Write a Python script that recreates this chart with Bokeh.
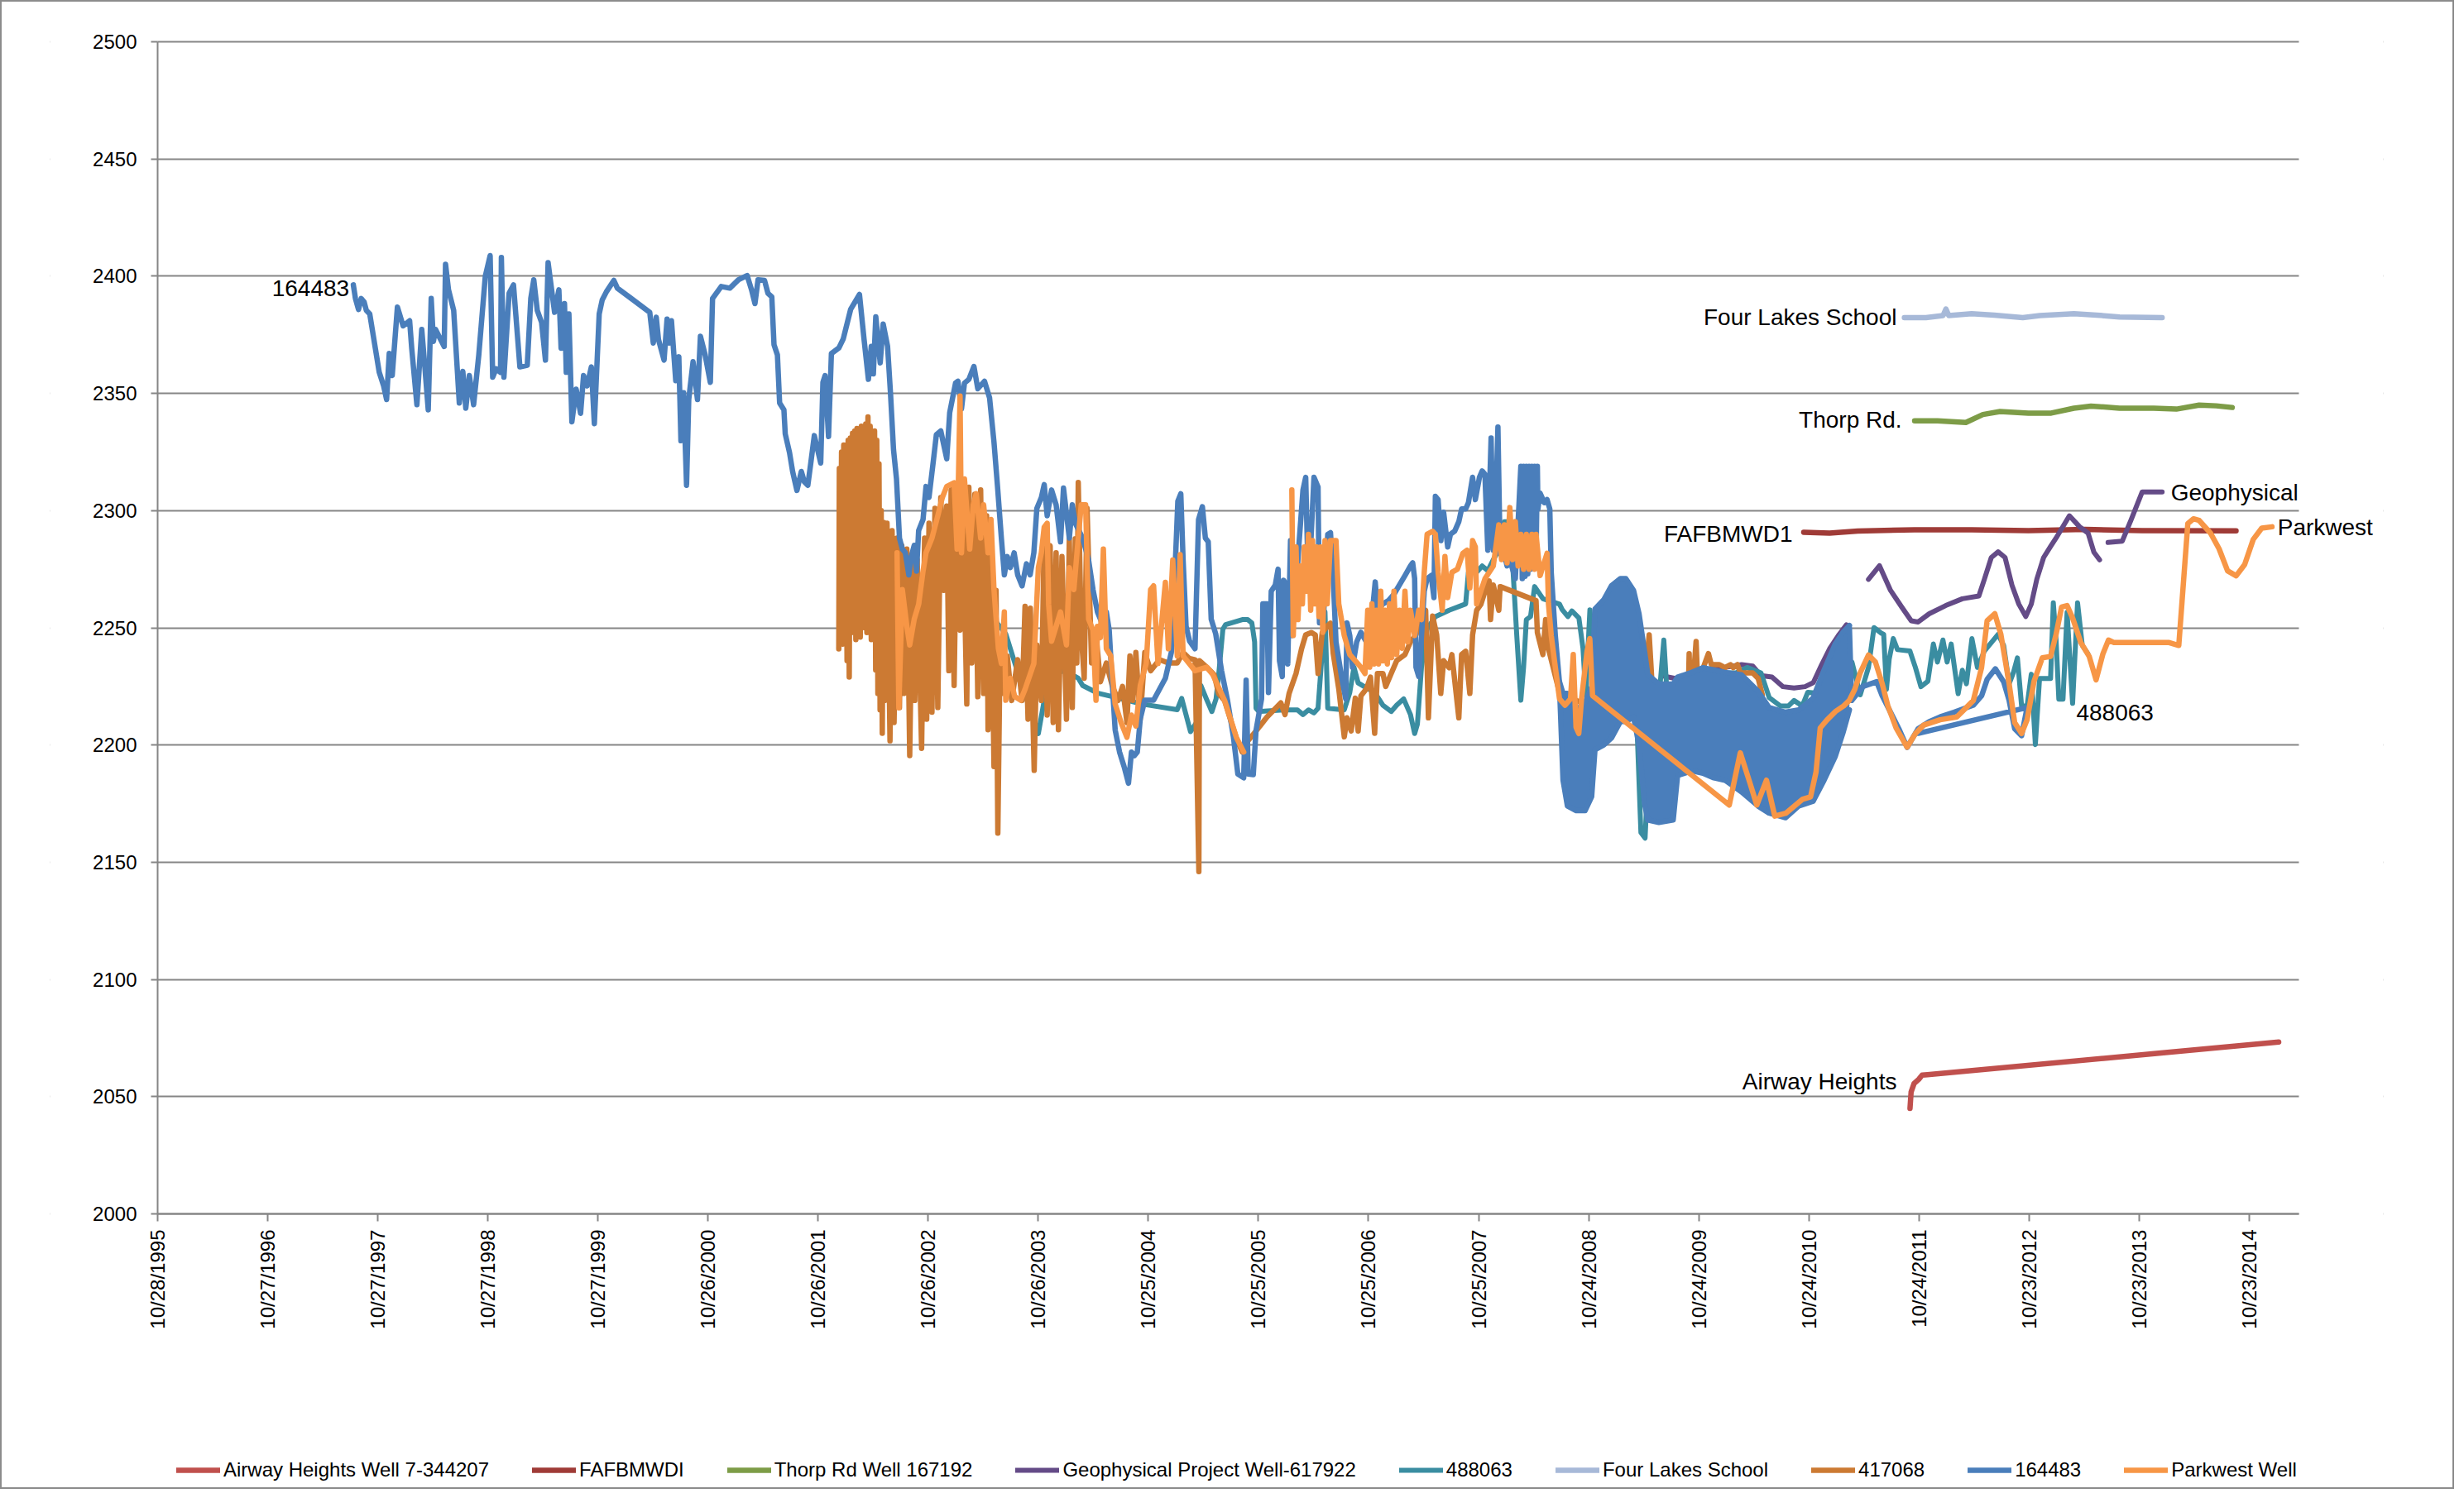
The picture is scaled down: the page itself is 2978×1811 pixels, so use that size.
import numpy as np
from bokeh.plotting import figure
from bokeh.models import (Range1d, FixedTicker, DatetimeTickFormatter, Legend, LegendItem, Label,
                          BoxAnnotation)
from bokeh.embed import file_html
from bokeh.resources import INLINE

NAN = float("nan")

# ---------------- data (decimal years, elevation ft) ----------------
AH_yr = [2011.730, 2011.740, 2011.767, 2011.809, 2011.840, 2011.888, 2015.077]
AH_val = [2045.0, 2052.0, 2055.6, 2057.4, 2059.2, 2059.4, 2073.3]

FAFB_yr = [2010.765, 2011.000, 2011.256, 2011.770, 2012.290, 2012.805, 2013.320, 2013.838, 2014.690]
FAFB_val = [2290.8, 2290.4, 2291.3, 2291.8, 2291.8, 2291.5, 2292.0, 2291.5, 2291.4]

THORP_yr = [2011.772, 2011.979, 2012.237, 2012.392, 2012.547, 2012.805, 2013.012, 2013.218,
            2013.373, 2013.632, 2013.942, 2014.148, 2014.355, 2014.510, 2014.655]
THORP_val = [2338.3, 2338.3, 2337.6, 2341.0, 2342.3, 2341.6, 2341.6, 2343.7,
             2344.6, 2343.7, 2343.7, 2343.3, 2345.0, 2344.7, 2344.0]

GEO_yr = [2009.475, 2009.600, 2009.700, 2009.800, 2009.926, 2010.051, 2010.201, 2010.302, 2010.377,
          2010.477, 2010.577, 2010.677, 2010.777, 2010.852, 2010.928, 2011.003, 2011.078, 2011.153,
          2011.250,
          2011.353, 2011.453, 2011.553, 2011.654, 2011.741, 2011.804, 2011.904, 2012.054, 2012.205,
          2012.355, 2012.405, 2012.468, 2012.530, 2012.593, 2012.655, 2012.718, 2012.781, 2012.831,
          2012.881, 2012.943, 2013.006, 2013.056, 2013.177, 2013.270, 2013.347, 2013.399, 2013.451,
          2013.490,
          2013.528, 2013.657, 2013.735, 2013.838, 2014.019]
GEO_val = [2229.6, 2228.4, 2227.8, 2230.8, 2232.5, 2233.1, 2234.3, 2233.7, 2229.6,
           2229.0, 2224.9, 2224.3, 2224.9, 2226.6, 2234.3, 2241.3, 2246.6, 2251.3,
           NAN,
           2270.7, 2276.5, 2266.0, 2258.9, 2253.0, 2252.5, 2256.0, 2259.5, 2262.4,
           2263.6, 2270.7, 2280.0, 2282.4, 2280.0, 2268.3, 2260.1, 2254.8, 2260.1,
           2270.7, 2280.0, 2284.7, 2288.3, 2297.8, 2293.1, 2290.4, 2282.3, 2279.0,
           NAN,
           2286.4, 2287.0, 2295.8, 2308.0, 2308.0]

W488_yr = [2003.079, 2003.226, 2003.414, 2003.521, 2003.656, 2003.682, 2003.817, 2003.870, 2003.924,
           2004.058, 2004.179, 2004.219, 2004.353, 2004.487, 2004.756, 2005.078, 2005.118, 2005.198,
           2005.252, 2005.292, 2005.342, 2005.392, 2005.430, 2005.455, 2005.492, 2005.517, 2005.668,
           2005.718, 2005.755, 2005.780, 2005.793, 2005.818, 2006.043, 2006.169, 2006.219, 2006.269,
           2006.319, 2006.356, 2006.394, 2006.419, 2006.444, 2006.594, 2006.644, 2006.682, 2006.720,
           2006.770, 2006.870, 2006.945, 2007.020, 2007.070, 2007.133, 2007.195, 2007.233, 2007.258,
           2007.295, 2007.346, 2007.421, 2007.546, 2007.696, 2007.721, 2007.759, 2007.796, 2007.846,
           2007.897, 2007.947, 2007.997, 2008.047, 2008.097, 2008.122, 2008.160, 2008.197, 2008.222,
           2008.247, 2008.285, 2008.322, 2008.398, 2008.548, 2008.573, 2008.624, 2008.661, 2008.724,
           2008.761, 2008.786, 2008.824, 2008.862, 2008.899, 2009.000, 2009.124, 2009.250, 2009.287,
           2009.325, 2009.350, 2009.387, 2009.462, 2009.495, 2009.525, 2009.575, 2009.625, 2009.675,
           2009.750, 2009.850, 2010.051, 2010.151, 2010.251, 2010.377, 2010.452, 2010.552, 2010.627,
           2010.677, 2010.752, 2010.802, 2011.053, 2011.203, 2011.278, 2011.353, 2011.403, 2011.466,
           2011.491, 2011.516, 2011.541, 2011.578, 2011.616, 2011.729, 2011.779, 2011.829, 2011.892,
           2011.942, 2011.979, 2012.029, 2012.067, 2012.104, 2012.167, 2012.205, 2012.242, 2012.292,
           2012.342, 2012.405, 2012.530, 2012.580, 2012.630, 2012.668, 2012.705, 2012.743, 2012.793,
           2012.831, 2012.868, 2012.906, 2013.006, 2013.031, 2013.056, 2013.081, 2013.119, 2013.156,
           2013.206, 2013.251, 2013.294, 2013.344]
W488_val = [2288.3, 2260.0, 2253.7, 2247.4, 2227.0, 2223.8, 2204.9, 2219.1, 2230.1,
            2231.7, 2228.5, 2225.4, 2222.2, 2220.7, 2217.5, 2215.1, 2219.9, 2205.7,
            2209.6, 2225.4, 2219.7, 2214.3, 2219.7, 2230.5, 2249.4, 2251.4, 2253.5,
            2253.5, 2252.1, 2244.0, 2215.7, 2214.3, 2215.0, 2215.0, 2213.0, 2215.0,
            2213.7, 2215.7, 2240.0, 2256.8, 2215.7, 2215.0, 2222.4, 2233.2, 2226.5,
            2225.1, 2222.4, 2217.0, 2214.3, 2217.0, 2219.7, 2213.0, 2204.9, 2208.9,
            2233.2, 2249.4, 2254.8, 2257.5, 2260.2, 2273.7, 2275.0, 2273.7, 2276.4,
            2274.4, 2279.1, 2283.1, 2295.3, 2295.3, 2277.7, 2246.7, 2219.1, 2233.2,
            2253.5, 2254.8, 2267.6, 2262.4, 2260.1, 2257.7, 2254.8, 2257.2, 2254.2,
            2241.3, 2221.4, 2257.7, 2235.4, 2226.0, 2221.4, 2219.0, 2209.6, 2162.7,
            2160.3, 2186.2, 2215.5, 2226.1, 2244.8, 2221.4, 2222.5, 2219.0, 2216.7,
            2219.0, 2228.4, 2230.8, 2230.8, 2233.1, 2230.8, 2220.2, 2216.7, 2216.7,
            2219.0, 2216.7, 2222.5, 2221.4, 2235.4, 2221.4, 2233.1, 2250.1, 2247.8,
            2247.2, 2223.7, 2236.6, 2245.4, 2240.7, 2240.1, 2233.1, 2224.9, 2227.2,
            2243.1, 2235.4, 2244.8, 2235.4, 2243.1, 2221.9, 2231.9, 2226.1, 2245.4,
            2233.1, 2240.1, 2247.2, 2242.5, 2226.1, 2230.8, 2237.2, 2216.7, 2216.7,
            2230.2, 2200.2, 2228.4, 2228.4, 2260.7, 2244.8, 2219.6, 2219.6, 2256.6,
            2217.8, 2260.7, 2242.5, 2239.0]

FOUR_yr = [2011.679, 2011.875, 2012.030, 2012.056, 2012.082, 2012.289, 2012.495, 2012.754,
           2012.909, 2013.218, 2013.425, 2013.632, 2014.019]
FOUR_val = [2382.3, 2382.3, 2383.2, 2386.0, 2383.2, 2384.0, 2383.4, 2382.3,
            2383.2, 2384.0, 2383.4, 2382.6, 2382.3]

W417_yr = [2002.005, 2002.010, 2002.020, 2002.030, 2002.040, 2002.050, 2002.060, 2002.070, 2002.080,
           2002.090, 2002.100, 2002.110, 2002.120, 2002.130, 2002.140, 2002.150, 2002.160, 2002.170,
           2002.180, 2002.190, 2002.200, 2002.210, 2002.220, 2002.230, 2002.240, 2002.250, 2002.260,
           2002.270, 2002.280, 2002.290, 2002.300, 2002.310, 2002.320, 2002.330, 2002.340, 2002.350,
           2002.360, 2002.370, 2002.380, 2002.390, 2002.400, 2002.410,
           2002.421, 2002.443, 2002.470, 2002.489, 2002.507, 2002.534, 2002.556, 2002.577, 2002.596,
           2002.623, 2002.649, 2002.676, 2002.695, 2002.717, 2002.757, 2002.784, 2002.803, 2002.824,
           2002.851, 2002.878, 2002.904, 2002.931, 2002.958, 2002.985, 2003.004, 2003.025, 2003.052,
           2003.079, 2003.106, 2003.124, 2003.146, 2003.167, 2003.186, 2003.213, 2003.240, 2003.267,
           2003.293, 2003.320, 2003.347, 2003.360, 2003.387, 2003.414, 2003.433, 2003.449, 2003.468,
           2003.495, 2003.535, 2003.575, 2003.629, 2003.669, 2003.696, 2003.723, 2003.744, 2003.779,
           2003.803, 2003.844, 2003.870, 2003.897, 2003.924, 2003.951, 2003.978, 2003.999, 2004.031,
           2004.072, 2004.098, 2004.125, 2004.152, 2004.166, 2004.179, 2004.206, 2004.233, 2004.259,
           2004.300, 2004.340, 2004.380, 2004.434, 2004.487, 2004.541, 2004.581, 2004.621, 2004.648,
           2004.675, 2004.702, 2004.742, 2004.783, 2004.836, 2004.917, 2004.997, 2005.078, 2005.131,
           2005.185, 2005.239, 2005.274, 2005.279, 2005.346, 2005.413, 2005.453, 2005.507, 2005.560,
           2005.614, 2005.668,
           2005.705, 2005.793, 2005.893, 2006.018, 2006.056, 2006.093, 2006.156, 2006.206, 2006.244,
           2006.294, 2006.331, 2006.356, 2006.394, 2006.444, 2006.469, 2006.494, 2006.544, 2006.594,
           2006.619, 2006.657, 2006.694, 2006.720, 2006.745, 2006.795, 2006.832, 2006.870, 2006.895,
           2006.945, 2006.970, 2007.020, 2007.070, 2007.145, 2007.195, 2007.245, 2007.295, 2007.333,
           2007.358, 2007.396, 2007.433, 2007.470, 2007.496, 2007.546, 2007.571, 2007.634, 2007.659,
           2007.696, 2007.734, 2007.759, 2007.796, 2007.834, 2007.872, 2007.909, 2007.922, 2007.947,
           2007.997, 2008.009, 2008.335, 2008.347, 2008.397, 2008.422, 2008.448,
           2008.550, 2008.900, 2009.300, 2009.362, 2009.400, 2009.438, 2009.475, 2009.550, 2009.650,
           2009.713, 2009.725, 2009.738, 2009.788, 2009.800, 2009.838, 2009.863, 2009.900, 2009.926,
           2010.000, 2010.050, 2010.100, 2010.125, 2010.164, 2010.189, 2010.302, 2010.352, 2010.389]
W417_val = [2241, 2318, 2250, 2325, 2243, 2328, 2252, 2328, 2236,
            2330, 2229, 2331, 2262, 2333, 2248, 2334, 2245, 2335,
            2255, 2334, 2246, 2336, 2252, 2335, 2250, 2337, 2248,
            2340, 2255, 2336, 2245, 2333, 2270, 2334, 2232, 2330,
            2222, 2320, 2215, 2300, 2205, 2295,
            2219.0, 2294.6, 2201.8, 2291.5, 2209.6, 2288.3, 2216.0, 2285.0, 2222.0,
            2283.6, 2195.5, 2282.0, 2219.0, 2279.0, 2198.6, 2288.3, 2211.0, 2294.6,
            2214.0, 2301.0, 2216.0, 2305.6, 2266.0, 2302.0, 2231.7, 2308.8, 2225.4,
            2310.0, 2249.0, 2306.0, 2266.0, 2217.5, 2310.0, 2235.0, 2307.0, 2220.6,
            2308.8, 2222.0, 2297.8, 2206.5, 2282.0, 2190.8, 2266.0, 2162.4, 2235.0,
            2222.0, 2238.0, 2219.0, 2236.4, 2219.0, 2259.2, 2211.0, 2258.4, 2189.2,
            2242.7, 2219.0, 2288.3, 2212.8, 2285.0, 2209.6, 2282.0, 2206.5, 2280.4,
            2211.0, 2288.3, 2216.0, 2288.0, 2235.0, 2312.0, 2247.4, 2228.5, 2301.0,
            2235.0, 2247.4, 2227.0, 2235.0, 2225.4, 2219.0, 2225.0, 2209.6, 2238.0,
            2219.0, 2239.5, 2211.0, 2239.5, 2231.7, 2236.4, 2235.0, 2235.0, 2239.5,
            2237.0, 2236.4, 2146.0, 2236.0, 2233.2, 2230.0, 2222.0, 2219.0, 2211.0,
            2203.0, 2197.0,
            2201.0, 2206.0, 2212.0, 2218.0, 2213.0, 2222.0, 2230.5, 2241.0, 2247.0,
            2248.0, 2247.0, 2230.5, 2248.0, 2251.0, 2252.0, 2239.0, 2224.0, 2203.5,
            2211.6, 2206.0, 2220.0, 2206.0, 2221.0, 2224.0, 2229.0, 2205.0, 2230.5,
            2230.5, 2225.0, 2230.5, 2236.0, 2238.6, 2244.0, 2247.0, 2253.5, 2257.5,
            2211.6, 2255.0, 2247.0, 2222.0, 2236.0, 2233.0, 2238.6, 2211.6, 2238.6,
            2240.0, 2222.0, 2247.0, 2257.5, 2260.0, 2265.6, 2270.0, 2253.5, 2268.3,
            2257.5, 2267.6, 2261.6, 2248.0, 2238.6, 2253.5, 2241.0,
            2222.0, 2215.0, 2215.0, 2247.0, 2216.7, 2221.4, 2215.5, 2212.0, 2210.8,
            2212.0, 2239.0, 2212.0, 2244.2, 2229.6, 2230.8, 2234.3, 2239.0, 2234.3,
            2234.3, 2233.0, 2234.3, 2233.0, 2234.3, 2230.8, 2230.8, 2228.4, 2221.4]

W164_yr = [1997.598, 1997.617, 1997.645, 1997.669, 1997.696, 1997.716, 1997.747, 1997.833, 1997.873,
           1997.900, 1997.924, 1997.951, 1997.998, 1998.050, 1998.109, 1998.128, 1998.175, 1998.219,
           1998.246, 1998.278, 1998.305, 1998.325, 1998.344, 1998.423, 1998.435, 1998.462, 1998.509,
           1998.560, 1998.592, 1998.619, 1998.651, 1998.690, 1998.737, 1998.796, 1998.840, 1998.863,
           1998.894, 1998.934, 1998.942, 1998.965, 1999.012, 1999.052, 1999.110, 1999.177, 1999.209,
           1999.236, 1999.268, 1999.307, 1999.342, 1999.366, 1999.425, 1999.464, 1999.484, 1999.515,
           1999.531, 1999.555, 1999.582, 1999.621, 1999.661, 1999.688, 1999.720, 1999.759, 1999.786,
           1999.830, 1999.857, 1999.896, 1999.963, 1999.995, 2000.289, 2000.321, 2000.348, 2000.368,
           2000.419, 2000.446, 2000.466, 2000.486, 2000.525, 2000.553, 2000.572, 2000.596, 2000.623,
           2000.643, 2000.682, 2000.722, 2000.749, 2000.792, 2000.839, 2000.859, 2000.938, 2001.016,
           2001.095, 2001.173, 2001.213, 2001.244, 2001.272, 2001.331, 2001.362, 2001.397, 2001.417,
           2001.448, 2001.468, 2001.507, 2001.519, 2001.558, 2001.586, 2001.625, 2001.665, 2001.692,
           2001.724, 2001.751, 2001.783, 2001.841, 2001.861, 2001.881,
           2001.912, 2001.938, 2002.006, 2002.046, 2002.113, 2002.193, 2002.234, 2002.274, 2002.300,
           2002.319, 2002.341, 2002.381, 2002.408, 2002.448, 2002.475, 2002.502, 2002.529, 2002.556,
           2002.582, 2002.609, 2002.641, 2002.663, 2002.690, 2002.711, 2002.730, 2002.770, 2002.797,
           2002.824, 2002.864, 2002.891, 2002.931, 2002.985, 2003.012, 2003.065, 2003.087, 2003.119,
           2003.146, 2003.186, 2003.232, 2003.267, 2003.328, 2003.374, 2003.414, 2003.446, 2003.481,
           2003.508, 2003.535, 2003.562, 2003.597, 2003.629, 2003.669, 2003.709, 2003.742, 2003.776,
           2003.803, 2003.844, 2003.870, 2003.897, 2003.937, 2003.978, 2004.018, 2004.045, 2004.098,
           2004.125, 2004.152, 2004.219, 2004.273, 2004.313, 2004.353, 2004.394, 2004.434, 2004.460,
           2004.487, 2004.514, 2004.554, 2004.595, 2004.635, 2004.662, 2004.689, 2004.715, 2004.742,
           2004.783, 2004.863, 2004.970, 2005.024, 2005.064, 2005.083, 2005.110, 2005.131, 2005.158,
           2005.190, 2005.239, 2005.271, 2005.306, 2005.333, 2005.359, 2005.386, 2005.427, 2005.480,
           2005.534, 2005.588, 2005.628, 2005.681, 2005.703, 2005.722,
           2005.768, 2005.793, 2005.843, 2005.855, 2005.893, 2005.906, 2005.931, 2005.968, 2005.993,
           2006.006, 2006.031, 2006.043, 2006.068, 2006.081, 2006.106, 2006.118, 2006.143, 2006.181,
           2006.219, 2006.244, 2006.269, 2006.319, 2006.356, 2006.369, 2006.406, 2006.444, 2006.469,
           2006.494, 2006.519, 2006.569, 2006.607, 2006.619, 2006.644, 2006.669, 2006.707, 2006.745,
           2006.795, 2006.845, 2006.875, 2006.895, 2006.945, 2006.995, 2007.045, 2007.095, 2007.145,
           2007.195, 2007.215, 2007.233, 2007.245, 2007.270, 2007.295, 2007.320, 2007.346, 2007.383,
           2007.408, 2007.421, 2007.446, 2007.471, 2007.496, 2007.533, 2007.558, 2007.596, 2007.634,
           2007.659, 2007.696, 2007.721, 2007.759, 2007.784, 2007.821, 2007.846, 2007.871, 2007.897,
           2007.927, 2007.947, 2007.959, 2007.989, 2008.009, 2008.034, 2008.072, 2008.097, 2008.147,
           2008.197, 2008.210, 2008.222, 2008.235, 2008.247, 2008.260, 2008.272, 2008.285, 2008.297,
           2008.310, 2008.322, 2008.335, 2008.347, 2008.352, 2008.372, 2008.410, 2008.435, 2008.460,
           2008.473, 2008.510, 2008.548,
           2009.800,
           2011.180, 2011.200, 2011.303, 2011.428, 2011.478, 2011.553, 2011.628, 2011.704, 2011.804,
           2011.904, 2012.004, 2012.130, 2012.305, 2012.380, 2012.430, 2012.505, 2012.580, 2012.630,
           2012.680, 2012.743, 2012.793, 2011.804]
W164_val = [2396.3, 2390.5, 2385.8, 2390.5, 2389.0, 2385.4, 2383.9, 2359.0, 2353.2,
            2347.4, 2367.1, 2357.6, 2386.8, 2378.8, 2381.0, 2369.3, 2345.2, 2377.3,
            2362.0, 2343.0, 2390.5, 2372.2, 2377.3, 2370.0, 2405.1, 2394.2, 2385.4,
            2345.9, 2359.4, 2343.7, 2357.6, 2345.2, 2366.4, 2400.0, 2408.8, 2356.9,
            2360.5, 2359.0, 2408.0, 2356.9, 2392.7, 2396.3, 2361.3, 2362.0, 2390.5,
            2398.5, 2385.4, 2380.3, 2364.2, 2405.8, 2384.6, 2394.2, 2369.3, 2388.3,
            2359.0, 2383.9, 2337.9, 2351.8, 2341.5, 2357.6, 2353.2, 2361.3, 2337.1,
            2383.9, 2389.8, 2393.4, 2398.2, 2394.9, 2384.6, 2371.5, 2382.5, 2373.0,
            2364.2, 2381.7, 2371.5, 2381.0, 2355.4, 2365.6, 2329.8, 2350.3, 2310.8,
            2347.4, 2363.5, 2347.4, 2374.4, 2366.4, 2354.7, 2390.5, 2395.6, 2394.9,
            2398.5, 2400.3, 2394.2, 2388.3, 2398.5, 2398.2, 2392.7, 2391.2, 2370.8,
            2366.4, 2345.9, 2343.0, 2332.7, 2324.7, 2316.7, 2308.6, 2316.7, 2312.3,
            2310.8, 2320.3, 2332.0, 2320.3, 2354.7, 2357.6,
            2331.6, 2367.0, 2369.4, 2373.3, 2385.9, 2392.2, 2373.3, 2356.0, 2370.1,
            2358.3, 2382.7, 2363.0, 2379.6, 2370.1, 2349.7, 2326.0, 2313.5, 2288.3,
            2283.6, 2282.0, 2272.6, 2280.4, 2285.2, 2274.2, 2291.5, 2296.2, 2310.3,
            2305.6, 2321.4, 2332.4, 2334.0, 2322.1, 2341.8, 2354.4, 2355.2, 2343.4,
            2354.4, 2356.0, 2361.5, 2352.0, 2355.2, 2348.1, 2329.2, 2310.3, 2288.3,
            2272.6, 2280.4, 2275.7, 2282.0, 2272.6, 2267.9, 2277.3, 2272.6, 2282.0,
            2300.9, 2305.6, 2311.1, 2297.8, 2308.8, 2302.5, 2286.7, 2309.6, 2288.3,
            2302.5, 2294.6, 2288.3, 2278.9, 2266.3, 2256.8, 2252.1, 2256.8, 2249.0,
            2227.0, 2206.5, 2197.0, 2190.8, 2183.7, 2197.0, 2195.5, 2197.0, 2211.2,
            2219.1, 2219.1, 2228.5, 2239.5, 2282.0, 2304.0, 2307.2, 2278.9, 2250.6,
            2244.3, 2241.1, 2296.2, 2301.7, 2288.3, 2286.7, 2253.7, 2247.4, 2231.7,
            2219.1, 2203.3, 2187.6, 2186.0, 2227.7, 2187.6,
            2187.4, 2206.2, 2219.7, 2260.2, 2260.2, 2222.4, 2265.6, 2268.3, 2275.0,
            2235.9, 2229.2, 2270.3, 2268.3, 2234.6, 2287.2, 2246.7, 2257.5, 2284.5,
            2308.8, 2314.2, 2265.6, 2314.2, 2310.1, 2252.1, 2254.8, 2289.9, 2290.6,
            2271.0, 2244.0, 2229.2, 2219.7, 2252.1, 2246.7, 2233.2, 2244.0, 2248.1,
            2244.0, 2254.8, 2269.6, 2257.5, 2260.2, 2261.6, 2264.3, 2268.3, 2272.3,
            2276.4, 2277.7, 2271.0, 2233.2, 2229.2, 2246.7, 2265.6, 2271.0, 2272.3,
            2262.9, 2306.1, 2304.7, 2287.2, 2299.3, 2284.5, 2289.9, 2291.2, 2295.3,
            2300.7, 2300.7, 2303.4, 2314.2, 2304.7, 2314.2, 2316.9, 2315.5, 2283.1,
            2331.0, 2283.1, 2284.5, 2335.7, 2281.8, 2284.5, 2276.4, 2279.1, 2271.0,
            2318.9, 2271.0, 2318.9, 2272.0, 2318.9, 2273.0, 2318.9, 2275.0, 2318.9,
            2277.0, 2318.9, 2280.0, 2318.9, 2300.7, 2307.4, 2303.4, 2304.7, 2300.7,
            2273.7, 2246.7, 2226.5,
            NAN,
            2250.0, 2219.0, 2225.0, 2227.0, 2221.0, 2214.0, 2207.0, 2199.0, 2207.0,
            2210.0, 2212.0, 2214.0, 2217.0, 2221.0, 2228.0, 2232.5, 2227.0, 2219.0,
            2207.0, 2204.0, 2216.0, 2205.0]

# dense daily record of 164483, 2008.5-2011.2: upper / lower envelope
W164_band_yr = [2008.548, 2008.580, 2008.620, 2008.700, 2008.780, 2008.840, 2008.870, 2008.950, 2009.020,
                2009.100, 2009.150, 2009.220, 2009.270, 2009.320, 2009.350, 2009.450, 2009.580, 2009.620,
                2009.750, 2009.850, 2009.950, 2010.050, 2010.200, 2010.350, 2010.450, 2010.600, 2010.720,
                2010.850, 2010.950, 2011.050, 2011.120, 2011.180]
W164_band_hi = [2227, 2222, 2222, 2215, 2218, 2225, 2258, 2262, 2268,
                2271, 2271, 2266, 2256, 2240, 2230, 2226, 2226, 2229,
                2231, 2233, 2232, 2231, 2230, 2223, 2216, 2214, 2215,
                2220, 2232, 2243, 2248, 2251]
W164_band_lo = [2225, 2185, 2174, 2172, 2172, 2178, 2198, 2200, 2203,
                2210, 2210, 2212, 2200, 2175, 2168, 2167, 2168, 2187,
                2189, 2188, 2186, 2185, 2180, 2174, 2171, 2169, 2174,
                2176, 2185, 2195, 2205, 2215]

PARK_yr = [2002.534, 2002.550, 2002.582, 2002.623, 2002.649, 2002.690, 2002.730, 2002.770, 2002.797,
           2002.851, 2002.904, 2002.945, 2002.985, 2003.052, 2003.079, 2003.106, 2003.119, 2003.146,
           2003.194, 2003.226, 2003.253, 2003.293, 2003.320, 2003.360, 2003.387, 2003.414, 2003.454,
           2003.481, 2003.508, 2003.521, 2003.562, 2003.602, 2003.656, 2003.696, 2003.776, 2003.817,
           2003.844, 2003.870, 2003.897, 2003.910, 2003.937, 2004.018, 2004.072, 2004.098, 2004.139,
           2004.179, 2004.206, 2004.246, 2004.273, 2004.313, 2004.340, 2004.353, 2004.380, 2004.407,
           2004.434, 2004.474, 2004.514, 2004.568, 2004.621, 2004.662, 2004.702, 2004.742, 2004.796,
           2004.836, 2004.863, 2004.903, 2004.970, 2004.997, 2005.037, 2005.078, 2005.104, 2005.131,
           2005.185, 2005.239, 2005.346, 2005.400, 2005.507, 2005.614, 2005.681,
           2005.900,
           2006.118, 2006.131, 2006.156, 2006.174, 2006.194, 2006.214, 2006.231, 2006.249, 2006.269,
           2006.289, 2006.306, 2006.324, 2006.344, 2006.364, 2006.381, 2006.399, 2006.419, 2006.439,
           2006.469, 2006.519, 2006.544, 2006.594, 2006.644, 2006.694, 2006.745, 2006.782, 2006.807,
           2006.825, 2006.845, 2006.865, 2006.885, 2006.905, 2006.925, 2006.945, 2006.965, 2006.985,
           2007.005, 2007.025, 2007.045, 2007.070, 2007.095, 2007.120, 2007.145, 2007.170, 2007.195,
           2007.233, 2007.270, 2007.295, 2007.320, 2007.346, 2007.396, 2007.421, 2007.446, 2007.483,
           2007.508, 2007.533, 2007.571, 2007.621, 2007.671, 2007.709, 2007.734, 2007.759, 2007.784,
           2007.796, 2007.872, 2007.947, 2007.997, 2008.022, 2008.047, 2008.072, 2008.097, 2008.122,
           2008.147, 2008.172, 2008.197, 2008.222, 2008.247, 2008.272, 2008.297, 2008.322, 2008.335,
           2008.372, 2008.435, 2008.448, 2008.473, 2008.510, 2008.548, 2008.598, 2008.648, 2008.673,
           2008.698, 2008.723, 2008.748, 2008.798, 2008.823, 2008.848,
           2010.089, 2010.189, 2010.277, 2010.339, 2010.427, 2010.502, 2010.602, 2010.752, 2010.827,
           2010.877, 2010.915, 2010.978, 2011.053, 2011.128, 2011.178, 2011.228, 2011.278, 2011.353,
           2011.416, 2011.478, 2011.529, 2011.604, 2011.704, 2011.779, 2011.854, 2012.004, 2012.155,
           2012.205, 2012.305, 2012.380, 2012.430, 2012.500, 2012.555, 2012.630, 2012.680, 2012.743,
           2012.793, 2012.856, 2012.931, 2013.006, 2013.056, 2013.106, 2013.156, 2013.206, 2013.281,
           2013.357, 2013.419, 2013.482, 2013.532, 2013.582, 2014.083, 2014.170, 2014.252, 2014.303,
           2014.355, 2014.458, 2014.536, 2014.613, 2014.691, 2014.768, 2014.846, 2014.923, 2015.016]
PARK_val = [2282.0, 2215.9, 2266.3, 2250.6, 2242.7, 2253.7, 2260.0, 2274.2, 2282.0,
            2288.3, 2297.8, 2305.6, 2310.3, 2311.9, 2283.6, 2348.9, 2282.0, 2313.5,
            2283.6, 2302.5, 2307.2, 2288.3, 2302.5, 2282.0, 2296.2, 2266.3, 2241.1,
            2234.8, 2256.8, 2219.1, 2228.5, 2220.7, 2219.1, 2223.8, 2234.8, 2275.7,
            2282.0, 2293.0, 2294.6, 2260.0, 2244.3, 2256.8, 2242.7, 2275.7, 2266.3,
            2288.3, 2302.5, 2302.5, 2253.7, 2249.0, 2219.1, 2250.6, 2245.8, 2283.6,
            2241.1, 2238.0, 2217.5, 2209.6, 2203.3, 2212.8, 2208.1, 2225.4, 2234.8,
            2266.3, 2267.9, 2234.8, 2269.4, 2241.1, 2278.9, 2238.0, 2281.2, 2238.0,
            2234.8, 2231.7, 2233.2, 2230.1, 2219.1, 2203.3, 2197.0,
            NAN,
            2308.8, 2246.7, 2284.5, 2253.5, 2276.4, 2260.2, 2284.5, 2265.6, 2289.9,
            2257.5, 2287.2, 2260.2, 2284.5, 2254.8, 2284.5, 2248.1, 2287.2, 2260.2,
            2287.2, 2287.2, 2260.2, 2246.7, 2238.6, 2235.9, 2233.2, 2230.5, 2257.5,
            2233.2, 2260.2, 2234.6, 2257.5, 2234.6, 2265.6, 2235.9, 2257.5, 2234.6,
            2260.2, 2237.3, 2265.6, 2238.6, 2257.5, 2241.3, 2265.6, 2244.0, 2257.5,
            2246.7, 2257.5, 2253.5, 2273.7, 2289.9, 2291.2, 2289.9, 2273.7, 2257.5,
            2280.4, 2262.9, 2273.7, 2275.0, 2281.8, 2283.1, 2267.0, 2287.2, 2284.5,
            2260.2, 2271.0, 2276.4, 2293.9, 2279.1, 2293.9, 2277.7, 2301.3, 2279.1,
            2295.3, 2276.4, 2289.9, 2275.0, 2289.9, 2275.0, 2289.9, 2275.0, 2289.9,
            2272.3, 2281.8, 2260.2, 2246.7, 2233.2, 2219.7, 2217.0, 2219.7, 2238.6,
            2207.6, 2204.9, 2219.7, 2240.0, 2245.4, 2221.1,
            2174.4, 2196.7, 2183.8, 2174.4, 2185.0, 2169.7, 2170.9, 2176.8, 2177.9,
            2188.5, 2207.3, 2210.8, 2214.3, 2216.7, 2219.0, 2223.7, 2230.8, 2238.4,
            2235.4, 2226.1, 2216.7, 2207.3, 2199.1, 2204.9, 2208.5, 2210.8, 2212.0,
            2214.3, 2219.0, 2233.1, 2253.0, 2256.0, 2247.2, 2226.1, 2209.6, 2204.9,
            2210.8, 2227.2, 2237.2, 2237.8, 2247.2, 2258.9, 2259.5, 2254.2, 2243.7,
            2237.8, 2227.8, 2239.0, 2244.8, 2243.7, 2243.7, 2242.5, 2294.5, 2296.5,
            2295.8, 2290.4, 2283.7, 2274.3, 2272.2, 2277.0, 2287.7, 2292.5, 2293.1]

TICK_LABEL_DAYS = [9431 + 365 * k for k in range(20)]   # 10/28/1995 ... 10/23/2014
X_AXIS_START_DAYS = 9431
X_AXIS_END_DAYS = 9431 + 7100
Y_TICKS = list(range(2000, 2501, 50))

# ---------------- helpers ----------------
DAY_MS = 86400000.0


def to_ms(years):
    y = np.asarray(years, dtype=float)
    return (y - 1970.0) * 365.2425 * DAY_MS


FONT = "Liberation Sans"
GRID = "#868686"

# The frame reaches past the axis box on all sides so the outside labels, the tick
# labels and the legend are not clipped; both axes are pinned to the 2000 / 10-28-1995 lines.
X_VIEW_START_DAYS = 9431 - 356.65
X_VIEW_END_DAYS = 9431 + 7380
Y_VIEW_START = 1881.8
Y_VIEW_END = 2509.88

p = figure(width=2966, height=1800, x_axis_type="datetime",
           x_range=Range1d(X_VIEW_START_DAYS * DAY_MS, X_VIEW_END_DAYS * DAY_MS),
           y_range=Range1d(Y_VIEW_START, Y_VIEW_END),
           output_backend="svg", toolbar_location=None,
           min_border_left=58, min_border_right=88, min_border_top=20, min_border_bottom=0,
           background_fill_color="white", border_fill_color="white")
p.styles = {"border": "2px solid #8c8c8c"}
p.outline_line_color = None

p.xaxis.ticker = FixedTicker(ticks=[d * DAY_MS for d in TICK_LABEL_DAYS])
fmt = "%m/%d/%Y"
p.xaxis.formatter = DatetimeTickFormatter(milliseconds=fmt, seconds=fmt, minsec=fmt, minutes=fmt,
                                          hourmin=fmt, hours=fmt, days=fmt, months=fmt, years=fmt)
p.xaxis.major_label_orientation = np.pi / 2
p.xaxis.bounds = (X_AXIS_START_DAYS * DAY_MS, X_AXIS_END_DAYS * DAY_MS)
p.xaxis.fixed_location = 2000
p.yaxis.ticker = FixedTicker(ticks=Y_TICKS)
p.yaxis.bounds = (2000, 2500)
p.yaxis.fixed_location = X_AXIS_START_DAYS * DAY_MS
for ax in (p.xaxis[0], p.yaxis[0]):
    ax.axis_line_color = GRID
    ax.axis_line_width = 2
    ax.major_tick_line_color = GRID
    ax.major_tick_line_width = 2
    ax.major_tick_in = 0
    ax.minor_tick_line_color = None
    ax.major_label_text_font = FONT
    ax.major_label_text_font_size = "24px"
    ax.major_label_text_color = "black"
p.xaxis.major_tick_out = 9
p.xaxis.major_label_standoff = 10
p.yaxis.major_tick_out = 8
p.yaxis.major_label_standoff = 17

p.xgrid.visible = False
p.ygrid.grid_line_color = GRID
p.ygrid.grid_line_width = 2
# hide the gridlines outside the axis box
for kw in (dict(left=X_AXIS_END_DAYS * DAY_MS), dict(right=X_AXIS_START_DAYS * DAY_MS)):
    p.add_layout(BoxAnnotation(fill_color="white", fill_alpha=1.0, line_color=None,
                               level="underlay", **kw))

LW = 6.5
common = dict(line_width=LW, line_join="round", line_cap="round")

r_ah = p.line(to_ms(AH_yr), AH_val, line_color="#c0504d", **common)
r_fafb = p.line(to_ms(FAFB_yr), FAFB_val, line_color="#9f3b37", **common)
r_thorp = p.line(to_ms(THORP_yr), THORP_val, line_color="#7d9c47", **common)
r_geo = p.line(to_ms(GEO_yr), GEO_val, line_color="#644b87", line_width=6, line_join="round", line_cap="round")
r_488 = p.line(to_ms(W488_yr), W488_val, line_color="#3a8da1", line_width=6, line_join="round", line_cap="round")
r_four = p.line(to_ms(FOUR_yr), FOUR_val, line_color="#a7b9d8", **common)
r_417 = p.line(to_ms(W417_yr), W417_val, line_color="#cc7a33", **common)

BLUE = "#4a7ebb"
p.varea(x=to_ms(W164_band_yr), y1=W164_band_lo, y2=W164_band_hi, fill_color=BLUE)
p.line(to_ms(W164_band_yr), W164_band_hi, line_color=BLUE, **common)
p.line(to_ms(W164_band_yr), W164_band_lo, line_color=BLUE, **common)
r_164 = p.line(to_ms(W164_yr), W164_val, line_color=BLUE, **common)
r_park = p.line(to_ms(PARK_yr), PARK_val, line_color="#f79646", **common)

legend = Legend(items=[
    LegendItem(label="Airway Heights Well 7-344207", renderers=[r_ah]),
    LegendItem(label="FAFBMWDI", renderers=[r_fafb]),
    LegendItem(label="Thorp Rd Well 167192", renderers=[r_thorp]),
    LegendItem(label="Geophysical Project Well-617922", renderers=[r_geo]),
    LegendItem(label="488063", renderers=[r_488]),
    LegendItem(label="Four Lakes School", renderers=[r_four]),
    LegendItem(label="417068", renderers=[r_417]),
    LegendItem(label="164483", renderers=[r_164]),
    LegendItem(label="Parkwest Well", renderers=[r_park]),
], orientation="horizontal", location=(153, 10),
    label_text_font=FONT, label_text_font_size="24px", label_text_color="black",
    glyph_width=53, glyph_height=30, label_standoff=4, spacing=52, padding=5, margin=0,
    border_line_color=None, background_fill_alpha=0)
p.add_layout(legend)

LABELS = [
    ("164483", 1997.561, 2394.9, "right"),
    ("Four Lakes School", 2011.610, 2382.6, "right"),
    ("Thorp Rd.", 2011.656, 2338.9, "right"),
    ("FAFBMWD1", 2010.664, 2290.2, "right"),
    ("Geophysical", 2014.098, 2307.8, "left"),
    ("Parkwest", 2015.067, 2293.0, "left"),
    ("488063", 2013.240, 2214.0, "left"),
    ("Airway Heights", 2011.610, 2056.4, "right"),
]
for txt, yr, val, al in LABELS:
    p.add_layout(Label(x=float(to_ms([yr])[0]), y=val, text=txt, text_align=al,
                       text_baseline="middle", text_font=FONT, text_font_size="28px",
                       text_color="black"))

open("out.html", "w").write(file_html(p, INLINE))
